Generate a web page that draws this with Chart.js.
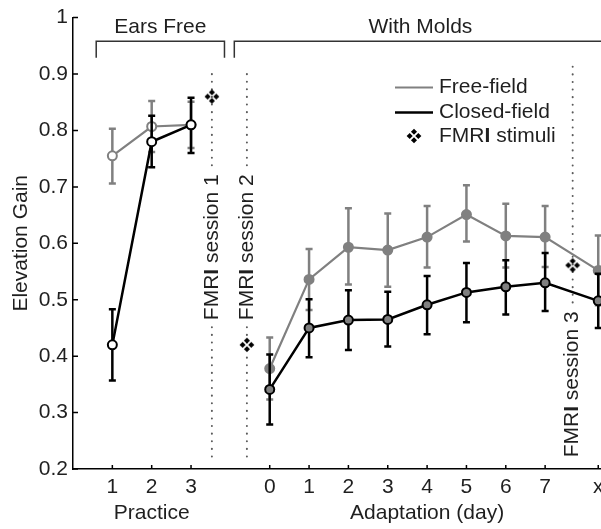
<!DOCTYPE html>
<html>
<head>
<meta charset="utf-8">
<title>Elevation gain</title>
<script src="https://cdn.jsdelivr.net/npm/chart.js@4.4.0/dist/chart.umd.min.js"></script>
<style>
  body { margin: 0; background: #fff; }
  #chart { display: block; }
</style>
</head>
<body>
<canvas id="chart" width="601" height="529"></canvas>
<script>
// categories
const practiceDays = ['1', '2', '3'];
const adaptationDays = ['0', '1', '2', '3', '4', '5', '6', '7', 'x'];
const fmriSessions = ['session 1', 'session 2', 'session 3'];

// free-field localisation (mean, lower, upper)
const freePractice = [0.755, 0.807, 0.810];
const freePracticeLo = [0.706, 0.762, 0.769];
const freePracticeHi = [0.803, 0.852, 0.851];
const freeAdapt = [0.378, 0.536, 0.593, 0.588, 0.611, 0.651, 0.613, 0.611, 0.552];
const freeAdaptLo = [0.323, 0.482, 0.527, 0.523, 0.557, 0.603, 0.557, 0.558, 0.490];
const freeAdaptHi = [0.433, 0.590, 0.662, 0.653, 0.666, 0.703, 0.670, 0.666, 0.614];

// closed-field localisation
const closedPractice = [0.420, 0.780, 0.810];
const closedPracticeLo = [0.357, 0.735, 0.760];
const closedPracticeHi = [0.483, 0.826, 0.858];
const closedAdapt = [0.341, 0.450, 0.464, 0.465, 0.491, 0.513, 0.523, 0.530, 0.498];
const closedAdaptLo = [0.279, 0.398, 0.411, 0.417, 0.439, 0.460, 0.474, 0.480, 0.450];
const closedAdaptHi = [0.403, 0.501, 0.517, 0.514, 0.542, 0.565, 0.570, 0.583, 0.546];

// gain measured with the scanner stimuli at each session
const fmriStimuli = [0.86, 0.42, 0.561];

const FONT = '"Liberation Sans", Arial, Helvetica, sans-serif';
const INK = '#1f1f1f';
const GRAY = '#808080';

// practice sits at 1..3, adaptation from 5 on, the follow-up "x" a bit further out
const practiceX = practiceDays.map((d, i) => i + 1);
const adaptX = adaptationDays.map((d, i) => d === 'x' ? 13.35 : i + 5);
const sessionX = [3.53, 4.42, 12.7];

const pts = (xs, ys) => ys.map((y, i) => ({ x: xs[i], y: y }));

// four little diamonds, used as the scanner-stimulus marker
function makeCluster(size) {
  const c = document.createElement('canvas');
  c.width = c.height = size;
  const g = c.getContext('2d');
  const m = size / 2, h = size * 0.19, off = size * 0.27;
  g.fillStyle = '#000';
  [[0, -off], [off, 0], [0, off], [-off, 0]].forEach(([dx, dy]) => {
    g.beginPath();
    g.moveTo(m + dx, m + dy - h);
    g.lineTo(m + dx + h, m + dy);
    g.lineTo(m + dx, m + dy + h);
    g.lineTo(m + dx - h, m + dy);
    g.closePath();
    g.fill();
  });
  return c;
}
const cluster = makeCluster(16);

function font(bold) {
  return (bold ? 'bold ' : '') + '21px ' + FONT;
}

// "FMRI" with a heavy I, the rest plain
function drawFmri(ctx, rest, x, y, align) {
  const runs = [['FMR', false], ['I', true], [rest, false]];
  const widths = runs.map(r => { ctx.font = font(r[1]); return ctx.measureText(r[0]).width; });
  const total = widths.reduce((a, b) => a + b, 0);
  let cx = align === 'center' ? x - total / 2 : x;
  ctx.textAlign = 'left';
  runs.forEach((r, i) => {
    ctx.font = font(r[1]);
    ctx.fillText(r[0], cx, y);
    cx += widths[i];
  });
  return total;
}

const decorations = {
  id: 'decorations',
  beforeDatasetsDraw(chart) {
    const { ctx, scales: { x, y } } = chart;
    ctx.save();

    // brackets over the two phases
    ctx.strokeStyle = '#333';
    ctx.lineWidth = 1.5;
    const bt = y.getPixelForValue(0.958), bb = y.getPixelForValue(0.929);
    ctx.beginPath();
    ctx.moveTo(x.getPixelForValue(0.59), bb);
    ctx.lineTo(x.getPixelForValue(0.59), bt);
    ctx.lineTo(x.getPixelForValue(3.85), bt);
    ctx.lineTo(x.getPixelForValue(3.85), bb);
    ctx.moveTo(x.getPixelForValue(4.1), bb);
    ctx.lineTo(x.getPixelForValue(4.1), bt);
    ctx.lineTo(x.getPixelForValue(14), bt);
    ctx.stroke();

    ctx.fillStyle = INK;
    ctx.font = font(false);
    ctx.textAlign = 'center';
    ctx.textBaseline = 'middle';
    ctx.fillText('Ears Free', x.getPixelForValue(2.22), y.getPixelForValue(0.983));
    ctx.fillText('With Molds', x.getPixelForValue(8.83), y.getPixelForValue(0.983));

    // scanner sessions: dotted marker lines with a rotated caption
    const spans = [[0.9, 0.21, 0.593], [0.9, 0.21, 0.593], [0.913, 0.21, 0.35]];
    fmriSessions.forEach((s, i) => {
      const px = x.getPixelForValue(sessionX[i]);
      const [top, bottom, mid] = spans[i];
      ctx.font = font(false);
      const half = (ctx.measureText('FMRI ' + s).width + 4) / 2;
      const cy = y.getPixelForValue(mid);
      const segs = [[y.getPixelForValue(top), cy - half - 5], [cy + half + 5, y.getPixelForValue(bottom)]];
      ctx.strokeStyle = '#5a5a5a';
      ctx.lineWidth = 2;
      ctx.lineCap = 'round';
      ctx.setLineDash([0.1, 7.5]);
      segs.forEach(([a, b]) => {
        if (b <= a) return;
        ctx.beginPath();
        ctx.moveTo(px, a);
        ctx.lineTo(px, b);
        ctx.stroke();
      });
      ctx.setLineDash([]);
      ctx.save();
      ctx.translate(px, cy);
      ctx.rotate(-Math.PI / 2);
      ctx.fillStyle = INK;
      ctx.textBaseline = 'middle';
      drawFmri(ctx, ' ' + s, 0, 0, 'center');
      ctx.restore();
    });
    ctx.restore();
  },
  beforeDatasetDraw(chart, args) {
    // error bars go underneath their own line
    const ds = chart.data.datasets[args.index];
    if (!ds.errLo) return;
    const { ctx, scales: { x, y } } = chart;
    ctx.save();
    ctx.strokeStyle = ds.borderColor;
    ctx.lineWidth = 2.5;
    ds.data.forEach((p, i) => {
      const px = x.getPixelForValue(p.x);
      const hi = y.getPixelForValue(ds.errHi[i]);
      const lo = y.getPixelForValue(ds.errLo[i]);
      ctx.beginPath();
      ctx.moveTo(px, hi);
      ctx.lineTo(px, lo);
      ctx.moveTo(px - 3.5, hi);
      ctx.lineTo(px + 3.5, hi);
      ctx.moveTo(px - 3.5, lo);
      ctx.lineTo(px + 3.5, lo);
      ctx.stroke();
    });
    ctx.restore();
  },
  afterDraw(chart) {
    const { ctx, chartArea: area, scales: { x, y } } = chart;
    ctx.save();

    // inward tick marks
    ctx.strokeStyle = '#000';
    ctx.lineWidth = 1.5;
    ctx.beginPath();
    y.ticks.forEach(t => {
      const py = y.getPixelForValue(t.value);
      ctx.moveTo(area.left, py);
      ctx.lineTo(area.left + 5, py);
    });
    practiceX.concat(adaptX).forEach(v => {
      const px = x.getPixelForValue(v);
      ctx.moveTo(px, area.bottom);
      ctx.lineTo(px, area.bottom - 4);
    });
    ctx.stroke();

    // x tick labels and axis titles
    ctx.fillStyle = INK;
    ctx.font = font(false);
    ctx.textAlign = 'center';
    ctx.textBaseline = 'middle';
    const ly = area.bottom + 18;
    practiceDays.forEach((d, i) => ctx.fillText(d, x.getPixelForValue(practiceX[i]), ly));
    adaptationDays.forEach((d, i) => ctx.fillText(d, x.getPixelForValue(adaptX[i]), ly));
    ctx.fillText('Practice', x.getPixelForValue(2), area.bottom + 44);
    ctx.fillText('Adaptation (day)', x.getPixelForValue(9), area.bottom + 44);

    ctx.save();
    ctx.translate(21, (area.top + area.bottom) / 2);
    ctx.rotate(-Math.PI / 2);
    ctx.fillText('Elevation Gain', 0, 0);
    ctx.restore();

    // legend
    const lx = 395, tx = 439;
    ctx.lineWidth = 2;
    ctx.strokeStyle = GRAY;
    ctx.beginPath(); ctx.moveTo(lx, 87.5); ctx.lineTo(lx + 38, 87.5); ctx.stroke();
    ctx.lineWidth = 2.5;
    ctx.strokeStyle = '#000';
    ctx.beginPath(); ctx.moveTo(lx, 112.5); ctx.lineTo(lx + 38, 112.5); ctx.stroke();
    ctx.drawImage(cluster, 414 - cluster.width / 2, 136 - cluster.height / 2);
    ctx.textAlign = 'left';
    ctx.fillText('Free-field', tx, 87);
    ctx.fillText('Closed-field', tx, 112);
    drawFmri(ctx, ' stimuli', tx, 136, 'left');
    ctx.restore();
  }
};

const lineStyle = (color, width, fill) => ({
  borderColor: color,
  borderWidth: width,
  pointRadius: 4.5,
  pointHoverRadius: 4.5,
  pointBorderWidth: 2,
  pointBorderColor: color,
  pointBackgroundColor: fill,
  fill: false,
  tension: 0
});

const chart = new Chart(document.getElementById('chart'), {
  type: 'line',
  data: {
    datasets: [
      {
        label: 'FMRI stimuli',
        data: pts(sessionX, fmriStimuli),
        showLine: false,
        pointStyle: cluster,
        pointRadius: 8,
        clip: false
      },
      Object.assign({ label: 'Closed-field', data: pts(practiceX, closedPractice),
        errLo: closedPracticeLo, errHi: closedPracticeHi }, lineStyle('#000', 2.5, '#fff')),
      Object.assign({ label: 'Closed-field', data: pts(adaptX, closedAdapt),
        errLo: closedAdaptLo, errHi: closedAdaptHi }, lineStyle('#000', 2.5, GRAY)),
      Object.assign({ label: 'Free-field', data: pts(practiceX, freePractice),
        errLo: freePracticeLo, errHi: freePracticeHi }, lineStyle(GRAY, 2.2, '#fff')),
      Object.assign({ label: 'Free-field', data: pts(adaptX, freeAdapt),
        errLo: freeAdaptLo, errHi: freeAdaptHi }, lineStyle(GRAY, 2.2, GRAY))
    ]
  },
  options: {
    responsive: false,
    animation: false,
    devicePixelRatio: 1,
    layout: { autoPadding: false, padding: { top: 16, left: 0, right: 0, bottom: 0 } },
    plugins: { legend: { display: false }, tooltip: { enabled: false } },
    scales: {
      x: {
        type: 'linear',
        bounds: 'data',
        min: 0,
        max: 13.42,
        grid: { display: false, drawTicks: false },
        ticks: { display: false },
        border: { display: true, color: '#000', width: 1.5 },
        afterFit: s => { s.height = 60; }
      },
      y: {
        min: 0.2,
        max: 1,
        grid: { display: false, drawTicks: false },
        border: { display: true, color: '#000', width: 1.5 },
        ticks: {
          stepSize: 0.1,
          padding: 5,
          color: INK,
          font: { family: FONT, size: 21 },
          callback: v => String(+v.toFixed(1))
        },
        afterFit: s => { s.width = 73; }
      }
    }
  },
  plugins: [decorations]
});
</script>
</body>
</html>
